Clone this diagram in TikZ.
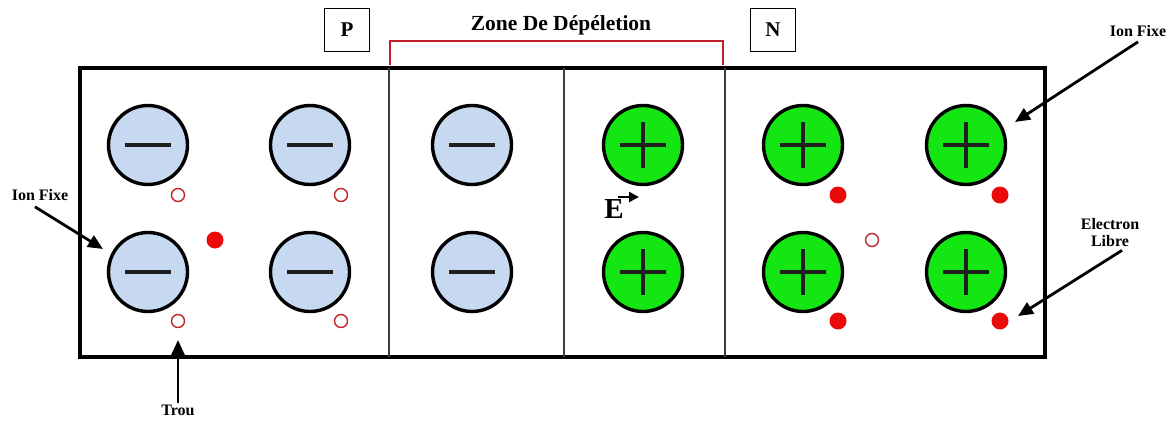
\documentclass[tikz,border=0pt]{standalone}
\usepackage{fontspec}
\setmainfont{Liberation Serif}
\usetikzlibrary{arrows.meta}
\definecolor{ionblue}{RGB}{198,217,241}
\definecolor{iongreen}{RGB}{20,230,20}
\definecolor{elred}{RGB}{235,10,10}
\definecolor{holered}{RGB}{190,40,40}
\definecolor{brackred}{RGB}{192,30,40}
\definecolor{divgray}{RGB}{60,60,60}
\tikzset{
  ion/.style={circle,draw=black,line width=3.4pt,minimum size=79pt,inner sep=0pt},
  negion/.style={ion,fill=ionblue},
  posion/.style={ion,fill=iongreen},
  sign/.style={line width=3.6pt,draw=black!88},
  hole/.style={circle,draw=holered,line width=1.4pt,minimum size=13pt,inner sep=0pt,fill=white},
  elec/.style={circle,fill=elred,minimum size=17pt,inner sep=0pt},
  lbl/.style={font=\bfseries\fontsize{16}{17}\selectfont,align=center,inner sep=1pt},
  arr/.style={line width=2.8pt,-{Triangle[length=15pt,width=13pt]}},
  tag/.style={draw,line width=1.8pt,minimum width=45pt,minimum height=43pt,font=\bfseries\fontsize{21}{22}\selectfont}
}
\begin{document}
\begin{tikzpicture}[x=1pt,y=-1pt]
\useasboundingbox (0,0) rectangle (1174,420);
% main box and dividers
\draw[line width=3.5pt] (80,68) rectangle (1045,357);
\foreach \x in {389,564,725}{\draw[divgray,line width=2pt] (\x,68) -- (\x,357);}
% bracket
\draw[brackred,line width=2.8pt] (390,65) -- (390,41) -- (723,41) -- (723,65);
\node[font=\bfseries\fontsize{21.5}{22}\selectfont] (zone) at (561,25) {Zone De Dépéletion};
\node[tag] (P) at (347,30) {P};
\node[tag] (N) at (773,30) {N};
% ions
\foreach \n/\x/\y in {11/148/145,12/310/145,13/472/145,21/148/272,22/310/272,23/472/272}{
  \node[negion] (i\n) at (\x,\y) {};
  \draw[sign] (\x-23,\y) -- (\x+23,\y);
}
\foreach \n/\x/\y in {14/643/145,15/803/145,16/966/145,24/643/272,25/803/272,26/966/272}{
  \node[posion] (i\n) at (\x,\y) {};
  \draw[sign] (\x-23,\y) -- (\x+23,\y);
  \draw[sign] (\x,\y-23) -- (\x,\y+23);
}
% holes
\node[hole] (h11) at (178,195) {};
\node[hole] (h12) at (341,195) {};
\node[hole] (h21) at (178,321) {};
\node[hole] (h22) at (341,321) {};
\node[hole] (h3) at (872,240) {};
% electrons
\node[elec] (e1) at (215,240) {};
\node[elec] (e15) at (838,195) {};
\node[elec] (e16) at (1000,195) {};
\node[elec] (e25) at (838,321) {};
\node[elec] (e26) at (1000,321) {};
% field E
\node[font=\bfseries\fontsize{29}{29}\selectfont,inner sep=0pt] (E) at (614,209) {E};
\coordinate (Ea) at (618,197);
\coordinate (Eb) at (639,197);
\draw[line width=2.2pt,-{Triangle[length=10pt,width=10pt]}] (Ea) -- (Eb);
% labels
\node[lbl] (ionL) at (40,195) {Ion Fixe};
\draw[arr] ([shift={(-5,5)}]ionL.south) -- ([shift={(-45,-23)}]i21.center);
\node[lbl] (trou) at (178,410) {Trou};
\draw[arr] (trou.north) -- ([shift={(0,19)}]h21.center);
\node[lbl] (ionR) at (1138,31) {Ion Fixe};
\draw[arr] ([shift={(0,4)}]ionR.south) -- ([shift={(49,-23)}]i16.center);
\node[lbl] (elL) at (1110,233) {Electron\\Libre};
\draw[arr] ([shift={(12,2)}]elL.south) -- ([shift={(18,-5)}]e26.center);
\end{tikzpicture}
\end{document}
